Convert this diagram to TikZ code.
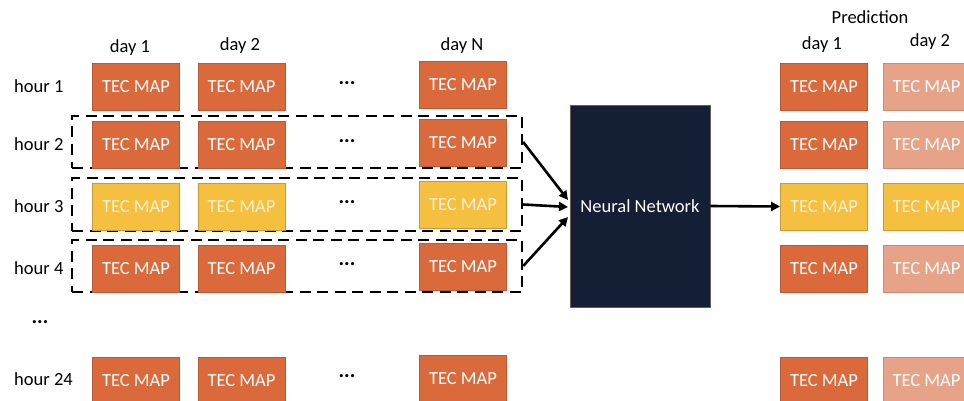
\documentclass[tikz,border=0pt]{standalone}
\usepackage{fontspec}
\setmainfont{Carlito}
\usetikzlibrary{arrows.meta}

\definecolor{mapOrange}{HTML}{DA6A3B}
\definecolor{mapOrangeEdge}{HTML}{BD5A32}
\definecolor{mapYellow}{HTML}{F5BF3F}
\definecolor{mapYellowEdge}{HTML}{C99A35}
\definecolor{mapLight}{HTML}{E6A388}
\definecolor{mapLightEdge}{HTML}{C98C74}
\definecolor{yellowText}{HTML}{FDF1D6}
\definecolor{netNavy}{HTML}{141E35}
\definecolor{netEdge}{HTML}{6E5A55}

\tikzset{
  txt/.style={font=\fontsize{18.5}{20}\selectfont, inner sep=0pt},
  mapbox/.style={txt, minimum width=87pt, minimum height=47pt, draw=mapOrangeEdge,
    line width=0.8pt, fill=mapOrange, text=white},
  mapyellow/.style={mapbox, fill=mapYellow, draw=mapYellowEdge, text=yellowText},
  maplight/.style={mapbox, fill=mapLight, draw=mapLightEdge, text=white},
  dots/.style={inner sep=0pt, font=\fontsize{21}{22}\selectfont\bfseries},
  window/.style={draw=black, line width=2.4pt, dash pattern=on 11pt off 6.5pt,
    minimum width=450pt, inner sep=0pt},
  flow/.style={line width=2.6pt, -{Triangle[length=9pt,width=9pt]}},
}

\begin{document}
\begin{tikzpicture}[x=1pt,y=-1pt]
\useasboundingbox (0,0) rectangle (964,401);
\clip (0,0) rectangle (964,401);

% column headings
\node[txt] (d1) at (130,48) {day 1};
\node[txt] (d2) at (240,46) {day 2};
\node[txt] (dN) at (462,46) {day N};

% row labels
\node[txt, anchor=west] (h1)  at (14,86)  {hour 1};
\node[txt, anchor=west] (h2)  at (14,144) {hour 2};
\node[txt, anchor=west] (h3)  at (14,206) {hour 3};
\node[txt, anchor=west] (h4)  at (14,268) {hour 4};
\node[dots] (hdots) at (40,322) {...};
\node[txt, anchor=west] (h24) at (14,379) {hour 24};

% sliding windows over consecutive hours
\node[window, minimum height=52pt] (w2) at (297,142)   {};
\node[window, minimum height=53pt] (w3) at (297,204.5) {};
\node[window, minimum height=52pt] (w4) at (297,266)   {};

% input maps
\foreach \r/\y/\s in {1/87/mapbox, 2/145/mapbox, 3/206.5/mapyellow, 4/268.5/mapbox, 24/380.5/mapbox}{
  \node[\s] (a\r) at (136,\y) {TEC MAP};
  \node[\s] (b\r) at (241.5,\y) {TEC MAP};
  \node[dots] (m\r) at (347,\y-4) {...};
  \node[\s] (n\r) at (463,\y-2) {TEC MAP};
}

% network
\node[txt, draw=netEdge, line width=0.8pt, fill=netNavy, text=white,
      minimum width=140pt, minimum height=202pt] (nn) at (640,206) {Neural Network};

% predictions
\node[txt] (pred) at (870,17) {Prediction};
\node[txt] (p1) at (822,45) {day 1};
\node[txt] (p2) at (930,42) {day 2};
\foreach \r/\y/\s/\t in {1/87/mapbox/maplight, 2/145/mapbox/maplight, 3/206.5/mapyellow/mapyellow, 4/268.5/mapbox/maplight, 24/380.5/mapbox/maplight}{
  \node[\s] (q\r) at (824,\y) {TEC MAP};
  \node[\t] (r\r) at (926.5,\y) {TEC MAP};
}

% connectors
\coordinate (in2) at (568,200);
\coordinate (in3) at (568,207);
\coordinate (in4) at (568,217);
\draw[flow] (w2.east) -- (in2);
\draw[flow] (w3.east) -- (in3);
\draw[flow] (w4.east) -- (in4);
\draw[flow] (nn.east) -- (q3.west);
\end{tikzpicture}
\end{document}
